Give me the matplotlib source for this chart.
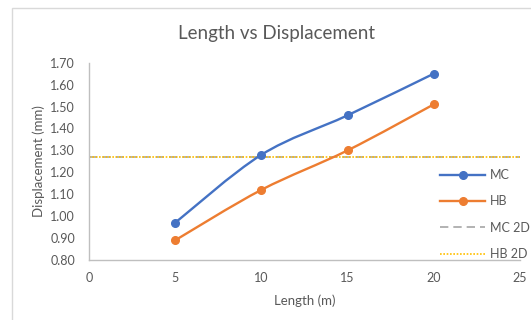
import numpy as np
import matplotlib
matplotlib.use("Agg")
import matplotlib.pyplot as plt
from matplotlib.path import Path
from matplotlib.patches import PathPatch, Rectangle
from matplotlib.lines import Line2D

plt.rcParams['font.family'] = ['Lato', 'DejaVu Sans']

# Data
length_m = [5, 10, 15, 20]
mc_disp = [0.97, 1.28, 1.46, 1.65]
hb_disp = [0.89, 1.12, 1.30, 1.51]
mc_2d = 1.27
hb_2d = 1.27
x_ticks = [0, 5, 10, 15, 20, 25]
y_ticks = [0.80, 0.90, 1.00, 1.10, 1.20, 1.30, 1.40, 1.50, 1.60, 1.70]

BLUE = '#4472C4'
ORANGE = '#ED7D31'
GRAY = '#A5A5A5'
GOLD = '#FFC000'
TEXT = '#595959'


def smooth_path(xs, ys):
    """Catmull-Rom style Bezier path through the points (Excel-like smoothing)."""
    pts = np.column_stack([xs, ys]).astype(float)
    verts = [tuple(pts[0])]
    codes = [Path.MOVETO]
    n = len(pts)
    for i in range(n - 1):
        p0 = pts[i - 1] if i > 0 else pts[i]
        p1 = pts[i]
        p2 = pts[i + 1]
        p3 = pts[i + 2] if i + 2 < n else pts[i + 1]
        c1 = p1 + (p2 - p0) / 6.0
        c2 = p2 - (p3 - p1) / 6.0
        verts += [tuple(c1), tuple(c2), tuple(p2)]
        codes += [Path.CURVE4] * 3
    return Path(verts, codes)


fig = plt.figure(figsize=(5.31, 3.20), dpi=100)
fig.patch.set_facecolor('white')

# Chart area frame
W, H = 531, 320
fig.patches.append(Rectangle((12 / W, -0.05), 1.1, (H - 8) / H + 0.05,
                             transform=fig.transFigure, fill=False,
                             edgecolor='#D9D9D9', linewidth=1.0))

ax = fig.add_axes([89 / W, 1 - 260 / H, (520 - 89) / W, (260 - 62.7) / H])
ax.set_xlim(0, 25)
ax.set_ylim(0.80, 1.70)
ax.set_xticks(x_ticks)
ax.set_yticks(y_ticks)
ax.set_xticklabels([str(v) for v in x_ticks])
ax.set_yticklabels([f"{v:.2f}" for v in y_ticks])
ax.tick_params(length=0, labelsize=9, colors=TEXT)
ax.tick_params(axis='y', pad=10)
ax.tick_params(axis='x', pad=9)

for s in ['top', 'right']:
    ax.spines[s].set_visible(False)
for s in ['left', 'bottom']:
    ax.spines[s].set_color('#BFBFBF')
    ax.spines[s].set_linewidth(1.0)

# 2D reference values
ax.axhline(mc_2d, color=GRAY, linestyle=(0, (5, 3)), linewidth=1.2, zorder=2)
ax.axhline(hb_2d, color=GOLD, linestyle=(0, (1, 1)), linewidth=1.2, zorder=2)

# Smoothed series with markers
for ys, col in [(mc_disp, BLUE), (hb_disp, ORANGE)]:
    ax.add_patch(PathPatch(smooth_path(length_m, ys), fill=False,
                           edgecolor=col, linewidth=1.7, zorder=3,
                           capstyle='round', joinstyle='round'))
    ax.plot(length_m, ys, linestyle='none', marker='o', markersize=5.5,
            color=col, zorder=4)

fig.text(277 / W, 1 - 33 / H, 'Length vs Displacement', fontsize=13.5,
         color=TEXT, ha='center', va='center')
ax.set_xlabel('Length (m)', fontsize=9.5, color=TEXT, labelpad=7)
ax.set_ylabel('Displacement (mm)', fontsize=9.5, color=TEXT, labelpad=4)

handles = [
    Line2D([], [], color=BLUE, linewidth=1.7, marker='o', markersize=5.5),
    Line2D([], [], color=ORANGE, linewidth=1.7, marker='o', markersize=5.5),
    Line2D([], [], color=GRAY, linewidth=1.2, linestyle=(0, (5, 3))),
    Line2D([], [], color=GOLD, linewidth=1.2, linestyle=(0, (1, 1))),
]
leg = ax.legend(handles, ['MC', 'HB', 'MC 2D', 'HB 2D'], loc='upper left',
                bbox_to_anchor=(440 / W, 1 - 169 / H),
                bbox_transform=fig.transFigure, frameon=False, fontsize=9,
                labelcolor=TEXT, handlelength=3.6, handletextpad=0.4,
                labelspacing=1.15, borderaxespad=0.0, borderpad=0.0)

fig.savefig('out.png', dpi=100, facecolor='white')
